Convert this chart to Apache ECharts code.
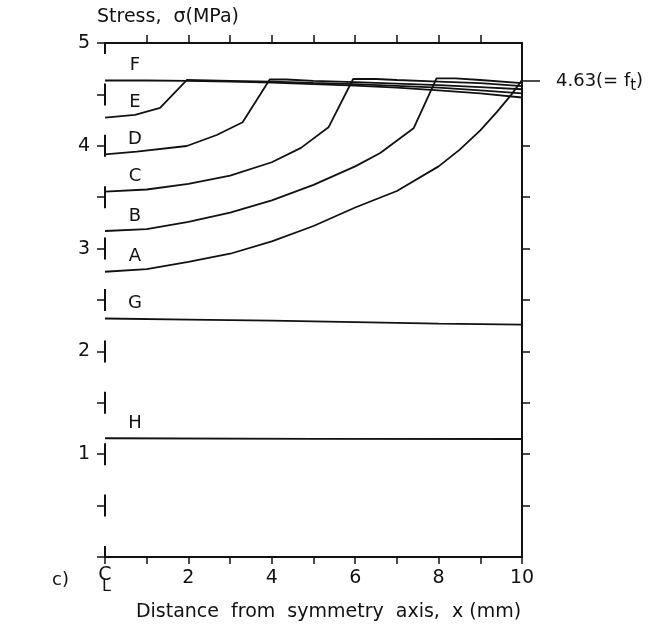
<!DOCTYPE html>
<html>
<head>
<meta charset="utf-8">
<script src="https://cdn.jsdelivr.net/npm/echarts@6/dist/echarts.min.js"></script>
<style>
  html, body { margin: 0; padding: 0; background: #fff; }
  #chart { width: 648px; height: 634px; }
</style>
</head>
<body>
<div id="chart"></div>
<script>
// Stress distribution along the ligament, stages A–H (x in mm, stress in MPa)
const tensileStrength = 4.63;

const fX = [0, 1, 2, 3, 4, 5, 6, 7, 8, 9, 10];
const fStress = [4.635, 4.635, 4.632, 4.625, 4.615, 4.60, 4.585, 4.565, 4.54, 4.51, 4.47];

const eX = [0, 0.72, 1.32, 1.96, 3, 4, 5, 6, 7, 8, 9, 10];
const eStress = [4.275, 4.30, 4.37, 4.64, 4.632, 4.625, 4.612, 4.60, 4.583, 4.565, 4.54, 4.51];

const dX = [0, 0.76, 1.96, 2.68, 3.30, 3.95, 4.35, 5, 6, 7, 8, 9, 10];
const dStress = [3.917, 3.943, 3.998, 4.105, 4.229, 4.645, 4.645, 4.632, 4.62, 4.605, 4.59, 4.57, 4.55];

const cX = [0, 1, 2, 3, 4, 4.7, 5.36, 5.95, 6.5, 7, 8, 9, 10];
const cStress = [3.554, 3.575, 3.63, 3.71, 3.84, 3.98, 4.18, 4.65, 4.65, 4.64, 4.625, 4.61, 4.58];

const bX = [0, 1, 2, 3, 4, 5, 6, 6.6, 7.4, 7.95, 8.4, 9, 10];
const bStress = [3.171, 3.19, 3.26, 3.35, 3.47, 3.62, 3.80, 3.93, 4.17, 4.655, 4.655, 4.64, 4.61];

const aX = [0, 1, 2, 3, 4, 5, 6, 7, 8, 8.5, 9, 9.4, 9.75, 10];
const aStress = [2.775, 2.80, 2.87, 2.95, 3.07, 3.22, 3.40, 3.56, 3.80, 3.96, 4.15, 4.33, 4.50, 4.64];

const gX = [0, 2, 4, 6, 8, 10];
const gStress = [2.32, 2.31, 2.30, 2.285, 2.27, 2.26];

const hX = [0, 5, 10];
const hStress = [1.155, 1.15, 1.148];

const curveNames = ['F', 'E', 'D', 'C', 'B', 'A', 'G', 'H'];
const curveX = [fX, eX, dX, cX, bX, aX, gX, hX];
const curveStress = [fStress, eStress, dStress, cStress, bStress, aStress, gStress, hStress];

const xTickLabels = ['C', '2', '4', '6', '8', '10'];
const yTickLabels = ['1', '2', '3', '4', '5'];

const FONT = 'DejaVu Sans';
const INK = '#111';

const pairs = (xs, ys) => xs.map((x, i) => [x, ys[i]]);

const lineSeries = curveNames.map((name, k) => ({
  name,
  type: 'line',
  xAxisIndex: 0,
  yAxisIndex: 0,
  data: pairs(curveX[k], curveStress[k]),
  showSymbol: false,
  symbol: 'none',
  lineStyle: { color: INK, width: 1.8 },
  silent: true,
  animation: false,
  z: 3
}));

// Curve letters, anchored on the first point of each curve
const letterSeries = {
  type: 'scatter',
  xAxisIndex: 0,
  yAxisIndex: 0,
  symbolSize: 0,
  itemStyle: { color: 'transparent' },
  data: curveNames.map((name, k) => ({ name, value: [curveX[k][0], curveStress[k][0]] })),
  label: {
    show: true,
    position: 'top',
    distance: 5,
    offset: [30, -1],
    formatter: p => p.name,
    fontFamily: FONT,
    fontSize: 18,
    color: INK,
    textBorderWidth: 0,
    opacity: 1
  },
  silent: true,
  animation: false,
  z: 4
};

const allHalfSteps = [];
for (let v = 0; v <= 5; v += 0.5) allHalfSteps.push(+v.toFixed(1));
// right-hand ticks stop below the f_t band
const rightTicks = allHalfSteps.filter(v => v > 0 && v < 4.5);
const innerUnits = [1, 2, 3, 4, 5, 6, 7, 8, 9];

// Left axis is drawn as short stubs around each tick rather than one continuous line
const leftStubSeries = {
  type: 'custom',
  xAxisIndex: 0,
  yAxisIndex: 0,
  data: allHalfSteps.map(v => [0, v]),
  silent: true,
  animation: false,
  clip: false,
  z: 5,
  renderItem: (params, api) => {
    const p = api.coord([api.value(0), api.value(1)]);
    const top = api.coord([0, 5])[1];
    const bottom = api.coord([0, 0])[1];
    const y1 = Math.max(top, p[1] - 11);
    const y2 = Math.min(bottom, p[1] + 11);
    return {
      type: 'line',
      shape: { x1: p[0], y1, x2: p[0], y2 },
      style: { stroke: INK, lineWidth: 2 }
    };
  }
};

const option = {
  animation: false,
  backgroundColor: '#fff',
  grid: { left: 105, top: 43, width: 417, height: 514 },
  xAxis: [
    {
      type: 'value', position: 'bottom', min: 0, max: 10, interval: 1,
      axisLine: { onZero: false, lineStyle: { color: INK, width: 2 } },
      axisTick: { inside: false, length: 7, lineStyle: { color: INK, width: 1.5 } },
      splitLine: { show: false },
      axisLabel: {
        margin: 12,
        fontFamily: FONT, fontSize: 19, color: INK,
        formatter: v => {
          if (v === 0) return '{c|' + xTickLabels[0] + '}\n{l|L}';
          return v % 2 === 0 ? xTickLabels[v / 2] : '';
        },
        rich: {
          c: { fontFamily: FONT, fontSize: 19, color: INK, lineHeight: 12 },
          l: { fontFamily: FONT, fontSize: 16, color: INK, lineHeight: 12, padding: [0, 0, 0, 3] }
        }
      },
      name: 'Distance  from  symmetry  axis,  x (mm)',
      nameLocation: 'middle',
      nameGap: 46,
      nameTextStyle: { fontFamily: FONT, fontSize: 19, color: INK, padding: [0, 0, 0, 30] }
    },
    {
      type: 'value', position: 'top', min: 0, max: 10, interval: 1,
      axisLine: { onZero: false, lineStyle: { color: INK, width: 2 } },
      axisTick: { inside: false, length: 8, customValues: innerUnits, lineStyle: { color: INK, width: 1.5 } },
      axisLabel: { show: false },
      splitLine: { show: false }
    }
  ],
  yAxis: [
    {
      type: 'value', position: 'left', min: 0, max: 5, interval: 0.5,
      axisLine: { show: false, onZero: false },
      axisTick: { show: true, inside: false, length: 8, lineStyle: { color: INK, width: 1.5 } },
      splitLine: { show: false },
      axisLabel: {
        margin: 15,
        fontFamily: FONT, fontSize: 19, color: INK,
        formatter: v => (Number.isInteger(v) && v > 0 ? yTickLabels[v - 1] : '')
      },
      name: 'Stress,  σ(MPa)',
      nameLocation: 'end',
      nameGap: 16,
      nameTextStyle: { fontFamily: FONT, fontSize: 19, color: INK, align: 'left', padding: [0, 0, 0, -8] }
    },
    {
      type: 'value', position: 'right', min: 0, max: 5, interval: 0.5,
      axisLine: { onZero: false, lineStyle: { color: INK, width: 2 } },
      axisTick: { inside: false, length: 8, customValues: rightTicks, lineStyle: { color: INK, width: 1.5 } },
      axisLabel: { show: false },
      splitLine: { show: false }
    },
    {
      type: 'value', position: 'right', min: 0, max: 5,
      axisLine: { show: false, onZero: false },
      axisTick: { inside: false, length: 18, customValues: [tensileStrength], lineStyle: { color: INK, width: 1.5 } },
      splitLine: { show: false },
      axisLabel: {
        customValues: [tensileStrength],
        margin: 34,
        formatter: v => v.toFixed(2) + '(= f{s|t})',
        fontFamily: FONT, fontSize: 18, color: INK,
        rich: { s: { fontFamily: FONT, fontSize: 15, color: INK, padding: [10, 0, 0, 0] } }
      }
    }
  ],
  graphic: [
    { type: 'text', left: 52, top: 571, style: { text: 'c)', font: '18px "DejaVu Sans"', fill: INK } }
  ],
  series: [...lineSeries, letterSeries, leftStubSeries]
};

const chart = echarts.init(document.getElementById('chart'), null, { renderer: 'canvas' });
chart.setOption(option);
</script>
</body>
</html>
